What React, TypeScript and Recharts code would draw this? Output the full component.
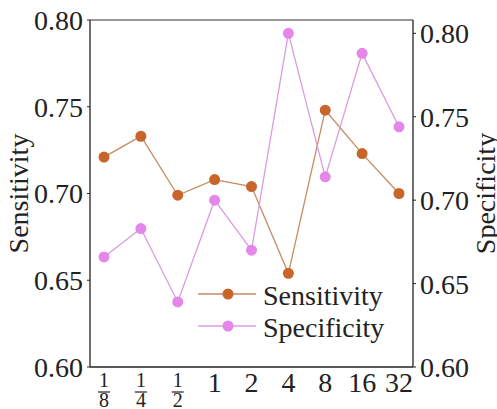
import React from 'react';
import { LineChart, Line, XAxis, YAxis, ReferenceLine } from 'recharts';

const categories = ['1/8', '1/4', '1/2', '1', '2', '4', '8', '16', '32'];
const sensitivity = [0.721, 0.733, 0.699, 0.708, 0.704, 0.654, 0.748, 0.723, 0.700];
const specificity = [0.666, 0.683, 0.639, 0.700, 0.670, 0.800, 0.714, 0.788, 0.744];
const leftTicks = [0.6, 0.65, 0.7, 0.75, 0.8];
const rightTicks = [0.6, 0.65, 0.7, 0.75, 0.8];
const seriesNames = ['Sensitivity', 'Specificity'];

const FONT = '"Liberation Serif", "Times New Roman", serif';
const TXT = '#222';
const SENS_DOT = '#C8652B';
const SENS_LINE = '#C58B62';
const SPEC_DOT = '#E486EA';
const SPEC_LINE = '#DA9BE0';

const data = categories.map((c, i) => ({ cat: c, sens: sensitivity[i], spec: specificity[i] }));

const XTick = (props: any) => {
  const { x, y, payload } = props;
  const v: string = payload.value;
  if (v.includes('/')) {
    const [n, d] = v.split('/');
    return (
      <g>
        <text x={x} y={y + 12} textAnchor="middle" fontSize={20} fontFamily={FONT} fill={TXT}>{n}</text>
        <line x1={x - 6} x2={x + 6} y1={y + 17} y2={y + 17} stroke={TXT} strokeWidth={1.2} />
        <text x={x} y={y + 32} textAnchor="middle" fontSize={20} fontFamily={FONT} fill={TXT}>{d}</text>
      </g>
    );
  }
  return (
    <text x={x} y={y + 17} textAnchor="middle" fontSize={28} fontFamily={FONT} fill={TXT}>{v}</text>
  );
};

const LegendBox = () => {
  const rows = [
    { name: seriesNames[0], dot: SENS_DOT, line: SENS_LINE },
    { name: seriesNames[1], dot: SPEC_DOT, line: SPEC_LINE },
  ];
  return (
    <svg width={210} height={72} style={{ display: 'block', position: 'absolute', left: 190, top: 275 }}>
      {rows.map((r, i) => {
        const cy = 19 + i * 32;
        return (
          <g key={r.name}>
            <line x1={8} x2={66} y1={cy} y2={cy} stroke={r.line} strokeWidth={1.3} />
            <circle cx={38} cy={cy} r={5.5} fill={r.dot} />
            <text x={73} y={cy + 11} fontSize={28} fontFamily={FONT} fill={TXT}>{r.name}</text>
          </g>
        );
      })}
    </svg>
  );
};

const LeftLabel = () => (
  <text x={18} y={193.5} transform="rotate(-90, 18, 193.5)" textAnchor="middle" dominantBaseline="central" fontSize={28} fontFamily={FONT} fill={TXT}>{seriesNames[0]}</text>
);
const RightLabel = () => (
  <text x={485} y={193.5} transform="rotate(-90, 485, 193.5)" textAnchor="middle" dominantBaseline="central" fontSize={28} fontFamily={FONT} fill={TXT}>{seriesNames[1]}</text>
);

export default function App() {
  return (
    <div style={{ position: 'absolute', left: 0, top: 0, width: 497, height: 409, background: '#fff' }}>
      <LineChart width={497} height={409} data={data} margin={{ top: 20, right: 0, bottom: 10, left: 0 }}>
        <XAxis
          dataKey="cat"
          type="category"
          padding={{ left: 14, right: 14 }}
          tickLine={false}
          tickSize={6}
          tickMargin={2}
          axisLine={{ stroke: TXT, strokeWidth: 1.3 }}
          tick={<XTick />}
          height={32}
          interval={0}
        />
        <YAxis
          yAxisId="left"
          orientation="left"
          domain={[0.6, 0.8]}
          ticks={leftTicks}
          tickFormatter={(v: number) => v.toFixed(2)}
          width={90}
          tickSize={3}
          tickMargin={4}
          axisLine={{ stroke: TXT, strokeWidth: 1.3 }}
          tickLine={{ stroke: TXT }}
          tick={{ fontSize: 28, fontFamily: FONT, fill: TXT }}
          label={<LeftLabel />}
          allowDataOverflow
        />
        <YAxis
          yAxisId="right"
          orientation="right"
          domain={[0.6, 0.808]}
          ticks={rightTicks}
          tickFormatter={(v: number) => v.toFixed(2)}
          width={84}
          tickSize={3}
          tickMargin={4}
          axisLine={{ stroke: TXT, strokeWidth: 1.3 }}
          tickLine={{ stroke: TXT }}
          tick={{ fontSize: 28, fontFamily: FONT, fill: TXT, textAnchor: 'start' }}
          label={<RightLabel />}
          allowDataOverflow
        />
        <ReferenceLine yAxisId="left" y={0.8} stroke="#777" strokeWidth={1.3} />
        <Line
          yAxisId="left"
          dataKey="sens"
          name={seriesNames[0]}
          stroke={SENS_LINE}
          strokeWidth={1.3}
          dot={{ r: 5.5, fill: SENS_DOT, stroke: SENS_DOT, strokeWidth: 0 }}
          isAnimationActive={false}
        />
        <Line
          yAxisId="right"
          dataKey="spec"
          name={seriesNames[1]}
          stroke={SPEC_LINE}
          strokeWidth={1.3}
          dot={{ r: 5.5, fill: SPEC_DOT, stroke: SPEC_DOT, strokeWidth: 0 }}
          isAnimationActive={false}
        />
      </LineChart>
      <LegendBox />
    </div>
  );
}
